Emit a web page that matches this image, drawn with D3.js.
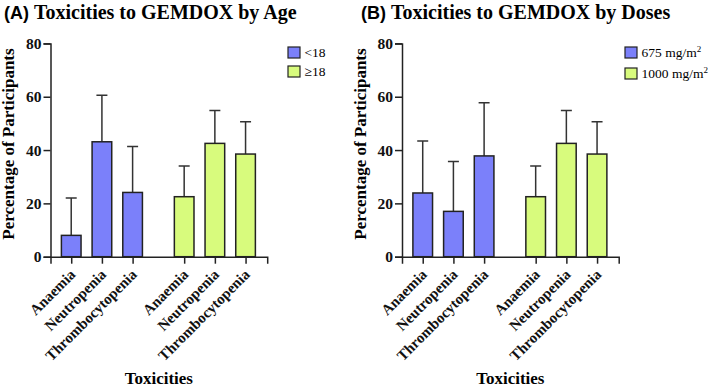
<!DOCTYPE html>
<html>
<head>
<meta charset="utf-8">
<script src="https://cdn.jsdelivr.net/npm/d3@7"></script>
<style>
  body { margin: 0; background: #fff; }
  svg text { font-family: "Liberation Serif", "Times New Roman", serif; }
</style>
</head>
<body>
<div id="chart"></div>
<script>
// toxicity categories (repeated for each group)
var categories = ["Anaemia", "Neutropenia", "Thrombocytopenia"];

// panel A: by age
var ageGroups = ["<18", "\u226518"];
var ageUnder18 = [8, 43.1, 24.1];
var ageUnder18Err = [14, 17.5, 17.2];
var ageOver18 = [22.5, 42.5, 38.5];
var ageOver18Err = [11.5, 12.3, 12.1];

// panel B: by doses
var doseGroups = ["675 mg/m", "1000 mg/m"];
var dose675 = [23.9, 17, 37.8];
var dose675Err = [19.5, 18.7, 19.9];
var dose1000 = [22.5, 42.5, 38.5];
var dose1000Err = [11.5, 12.3, 12.1];

var yTicks = [0, 20, 40, 60, 80];
var colors = ["#7b80fa", "#d8fb7d"];

var svg = d3.select("#chart")
    .append("svg")
    .attr("width", 709)
    .attr("height", 388);

function drawPanel(opts) {
    var vMargin = { mLeft: opts.left, mTop: 43.4 },
        vWidth = 216.7,
        vHeight = 213.3;

    var g = svg.append("g")
        .attr("transform", "translate(" + vMargin.mLeft + "," + vMargin.mTop + ")");

    // slot based x scale: two groups of three bars with a gap
    var vX = d3.scaleLinear().domain([0, 7.06]).range([0, vWidth]);
    var vY = d3.scaleLinear().domain([0, 80]).range([vHeight, 0]);
    var vBarW = vX(0.64) - vX(0);

    var vRows = [];
    opts.series.forEach(function (aSeries, aGroup) {
        aSeries.values.forEach(function (aVal, aIdx) {
            vRows.push({
                label: categories[aIdx],
                value: aVal,
                err: aSeries.err[aIdx],
                slot: 0.675 + aIdx + aGroup * 3.68,
                color: colors[aGroup]
            });
        });
    });

    // error bars (upper only)
    g.selectAll(".err")
        .data(vRows)
        .enter()
        .append("path")
        .attr("d", function (d) {
            var cx = vX(d.slot), yTop = vY(d.value + d.err);
            return "M" + cx + "," + vY(d.value) + "V" + yTop +
                "M" + (cx - 5.5) + "," + yTop + "H" + (cx + 5.5);
        })
        .attr("stroke", "#333")
        .attr("stroke-width", 1.5)
        .attr("fill", "none");

    // bars
    g.selectAll(".bar")
        .data(vRows)
        .enter()
        .append("rect")
        .attr("x", function (d) { return vX(d.slot) - vBarW / 2; })
        .attr("y", function (d) { return vY(d.value); })
        .attr("width", vBarW)
        .attr("height", function (d) { return vHeight - vY(d.value); })
        .attr("fill", function (d) { return d.color; })
        .attr("stroke", "#222")
        .attr("stroke-width", 1.5);

    // y axis
    var yAxis = g.append("g")
        .call(d3.axisLeft(vY).tickValues(yTicks).tickSize(7).tickPadding(2));
    yAxis.selectAll("text")
        .attr("font-size", 15.5)
        .attr("font-weight", "bold")
        .attr("fill", "#111");

    // x axis
    var xAxis = g.append("g")
        .attr("transform", "translate(0," + vHeight + ")")
        .call(d3.axisBottom(vX)
            .tickValues(vRows.map(function (d) { return d.slot; }))
            .tickFormat(function (d, i) { return vRows[i].label; })
            .tickSize(7));
    xAxis.selectAll("text")
        .attr("font-size", 15)
        .attr("font-weight", "bold")
        .attr("fill", "#111")
        .style("text-anchor", "end")
        .attr("y", 0)
        .attr("dy", "0.35em")
        .attr("transform", "translate(1,15)rotate(-45)");

    g.selectAll(".domain, .tick line")
        .attr("stroke", "#222")
        .attr("stroke-width", 1.5);

    // axis titles
    g.append("text")
        .attr("x", vWidth / 2)
        .attr("y", 341)
        .attr("text-anchor", "middle")
        .attr("font-size", 17)
        .attr("font-weight", "bold")
        .text("Toxicities");

    g.append("text")
        .attr("transform", "translate(" + (opts.yLabelX - vMargin.mLeft) + "," + (vHeight / 2 - 6) + ")rotate(-90)")
        .attr("text-anchor", "middle")
        .attr("font-size", 17)
        .attr("font-weight", "bold")
        .text("Percentage of Participants");

    // panel title
    var title = svg.append("text")
        .attr("x", opts.titleX)
        .attr("y", 18.5)
        .attr("font-size", 20)
        .attr("font-weight", "bold");
    title.append("tspan")
        .attr("font-family", "Liberation Sans, Arial, sans-serif")
        .attr("font-size", 18)
        .text(opts.tag + " ");
    title.append("tspan").text(opts.title);

    // legend
    var legend = svg.append("g")
        .attr("transform", "translate(" + opts.legendX + ",47)");
    opts.legend.forEach(function (aName, aIdx) {
        var row = legend.append("g")
            .attr("transform", "translate(0," + (aIdx * opts.legendGap) + ")");
        row.append("rect")
            .attr("width", 12)
            .attr("height", 11)
            .attr("fill", colors[aIdx])
            .attr("stroke", "#222")
            .attr("stroke-width", 1.2);
        var t = row.append("text")
            .attr("x", 16.5)
            .attr("y", 10)
            .attr("font-size", 13.5)
            .text(aName);
        if (opts.superscript) {
            t.append("tspan")
                .attr("font-size", 9)
                .attr("dy", -5)
                .text("2");
        }
    });
}

drawPanel({
    left: 50.5,
    yLabelX: 14,
    titleX: 4,
    tag: "(A)",
    title: "Toxicities to GEMDOX by Age",
    series: [
        { values: ageUnder18, err: ageUnder18Err },
        { values: ageOver18, err: ageOver18Err }
    ],
    legend: ageGroups,
    legendX: 288,
    legendGap: 19,
    superscript: false
});

drawPanel({
    left: 402,
    yLabelX: 366,
    titleX: 361,
    tag: "(B)",
    title: "Toxicities to GEMDOX by Doses",
    series: [
        { values: dose675, err: dose675Err },
        { values: dose1000, err: dose1000Err }
    ],
    legend: doseGroups,
    legendX: 625,
    legendGap: 21,
    superscript: true
});
</script>
</body>
</html>
